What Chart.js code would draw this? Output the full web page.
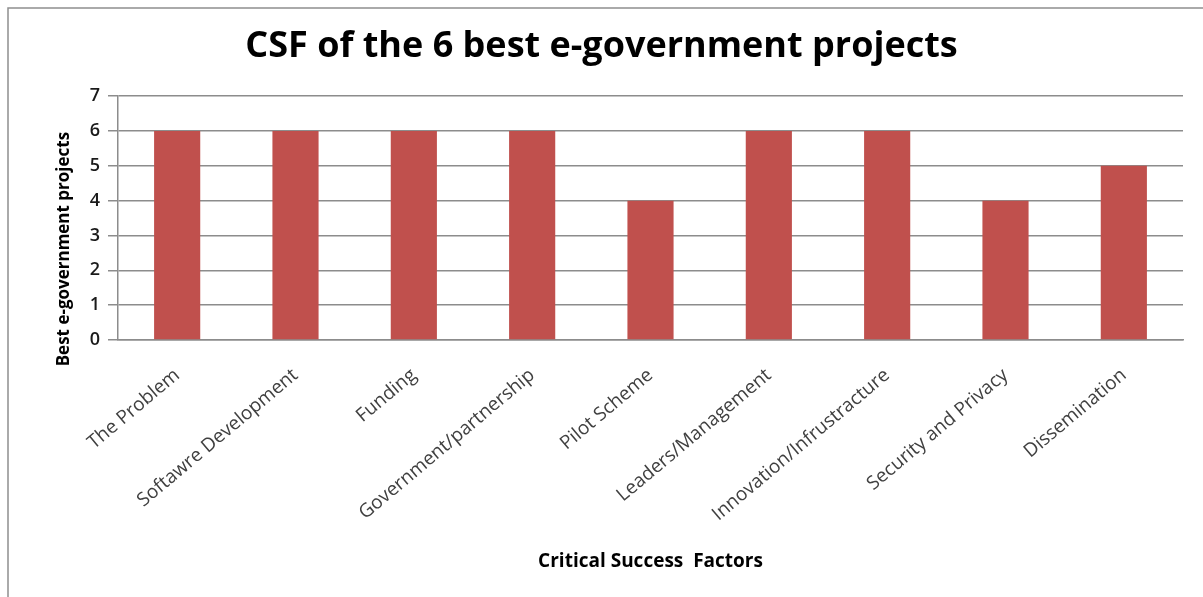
<!DOCTYPE html>
<html>
<head>
<meta charset="utf-8">
<script src="https://cdn.jsdelivr.net/npm/chart.js@4.4.1/dist/chart.umd.min.js"></script>
<style>
    html, body { margin: 0; padding: 0; background: #fff; }
    #wrap { position: relative; width: 1203px; height: 597px; }
</style>
</head>
<body>
<div id="wrap"><canvas id="csfChart" width="1203" height="597"></canvas></div>
<script>
// CSF chart
const chartTitle = 'CSF of the 6 best e-government projects';
const yAxisTitle = 'Best e-government projects';
const xAxisTitle = 'Critical Success  Factors';

const factors = [
    'The Problem',
    'Softawre Development',
    'Funding',
    'Government/partnership',
    'Pilot Scheme',
    'Leaders/Management',
    'Innovation/Infrustracture',
    'Security and Privacy',
    'Dissemination'
];
const projectCounts = [6, 6, 6, 6, 4, 6, 6, 4, 5];
const yTicks = [0, 1, 2, 3, 4, 5, 6, 7];

const barColor = '#C0504D';
const gridColor = '#8c8c8c';
const fontFamily = '"Open Sans", Lato, sans-serif';

// outer frame + rotated y title
const framePlugin = {
    id: 'frame',
    beforeDraw(chart) {
        const ctx = chart.ctx;
        ctx.save();
        ctx.strokeStyle = '#8f8f8f';
        ctx.lineWidth = 1.5;
        ctx.beginPath();
        ctx.moveTo(8, chart.height);
        ctx.lineTo(8, 8);
        ctx.lineTo(chart.width, 8);
        ctx.stroke();
        ctx.restore();
    },
    afterDraw(chart) {
        const ctx = chart.ctx;
        const area = chart.chartArea;
        ctx.save();
        ctx.translate(64, (area.top + area.bottom) / 2 + 31);
        ctx.rotate(-Math.PI / 2);
        ctx.font = 'bold 17px ' + fontFamily;
        ctx.fillStyle = '#000';
        ctx.textAlign = 'center';
        ctx.textBaseline = 'middle';
        ctx.fillText(yAxisTitle, 0, 0);
        ctx.restore();
    }
};

new Chart(document.getElementById('csfChart'), {
    type: 'bar',
    data: {
        labels: factors,
        datasets: [{
            label: yAxisTitle,
            data: projectCounts,
            backgroundColor: barColor,
            borderWidth: 0,
            categoryPercentage: 1.0,
            barPercentage: 0.39
        }]
    },
    options: {
        responsive: false,
        animation: false,
        layout: {
            padding: 0
        },
        plugins: {
            legend: { display: false },
            tooltip: { enabled: false },
            title: {
                display: true,
                text: chartTitle,
                color: '#000',
                font: { family: fontFamily, size: 36, weight: 'bold' },
                padding: { top: 25, bottom: 28 }
            }
        },
        scales: {
            x: {
                grid: { display: false, drawTicks: false },
                border: { color: gridColor, width: 1.5 },
                ticks: {
                    color: '#404040',
                    font: { family: fontFamily, size: 19 },
                    maxRotation: 40,
                    minRotation: 40,
                    padding: 24,
                    autoSkip: false
                },
                title: {
                    display: true,
                    text: xAxisTitle,
                    color: '#000',
                    font: { family: fontFamily, size: 19, weight: 'bold' },
                    padding: { top: 0, bottom: 24 }
                },
                afterFit(scale) {
                    scale.height = 257;
                }
            },
            y: {
                min: 0,
                max: 7,
                afterBuildTicks(scale) {
                    scale.ticks = yTicks.map(v => ({ value: v }));
                },
                grid: { color: gridColor, lineWidth: 1.5, tickLength: 10 },
                border: { color: gridColor, width: 1.5 },
                ticks: {
                    color: '#1a1a1a',
                    font: { family: fontFamily, size: 18, weight: '600' },
                    padding: 8
                },
                afterFit(scale) {
                    scale.width = 118;
                }
            },
            // empty right-hand strip so the plot stops short of the edge
            yRight: {
                position: 'right',
                min: 0,
                max: 7,
                grid: { display: false, drawTicks: false },
                border: { display: false },
                ticks: { display: false },
                afterFit(scale) {
                    scale.width = 20;
                }
            }
        }
    },
    plugins: [framePlugin]
});
</script>
</body>
</html>
